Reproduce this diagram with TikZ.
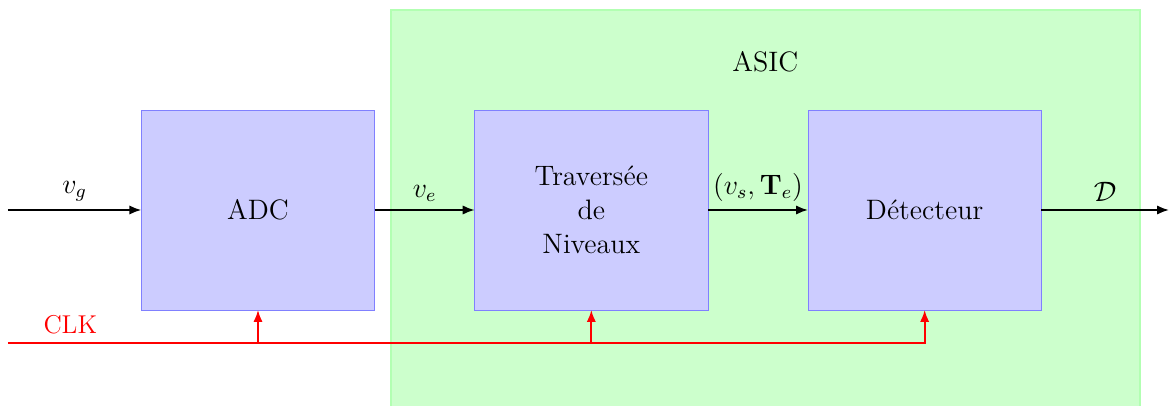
\documentclass[tikz,border=0pt]{standalone}
\usepackage{amsmath,amssymb}
\usepackage{xcolor}
\usepackage{tikz}
\usetikzlibrary{arrows.meta, positioning, backgrounds}
\tikzset{
  bloc/.style={rectangle, draw=blue!50, fill=blue!20, minimum width=3.5cm,
    minimum height=3cm, outer sep=0pt, align=center,
    font=\fontsize{12}{14.5}\selectfont},
  zone/.style={rectangle, draw=green!30, fill=green!20, semithick,
    minimum width=11.235cm, minimum height=6.14cm},
  fleche/.style={-{Latex[length=1.8mm, width=1.4mm]}, thick},
  horloge/.style={-{Latex[length=1.8mm, width=1.4mm]}, thick, red},
  etiq/.style={above, font=\fontsize{12}{14}\selectfont}
}

\begin{document}
\begin{tikzpicture}
  \useasboundingbox (0,0) rectangle (17.535,6.09);
  \node[zone] (asic) at (11.48,2.87) {};
  \node[etiq, below=0.78cm of asic.north, anchor=center] (titre) {ASIC};

  \node[bloc] (adc) at (3.87,2.94) {ADC};
  \node[bloc, right=1.5cm of adc] (trav) {Travers\'ee\\de\\Niveaux};
  \node[bloc, right=1.5cm of trav] (det) {D\'etecteur};

  \coordinate (entree) at (0.12,2.94);
  \coordinate (sortie) at (17.535,2.94);
  \coordinate (clk) at (0.12,0.945);

  % chaine de signal
  \draw[fleche] (entree) -- node[etiq] {$v_g$} (adc);
  \draw[fleche] (adc) -- node[etiq] {$v_e$} (trav);
  \draw[fleche] (trav) -- node[etiq] {$(v_s,\mathbf{T}_e)$} (det);
  \draw[fleche] (det) -- node[etiq] {$\mathcal{D}$} (sortie);

  % horloge
  \draw[horloge] (clk) -| node[pos=0.034, etiq, red,
    font=\fontsize{11}{13}\selectfont] {CLK} (det.south);
  \draw[horloge] (adc.south |- clk) -- (adc.south);
  \draw[horloge] (trav.south |- clk) -- (trav.south);
\end{tikzpicture}
\end{document}
